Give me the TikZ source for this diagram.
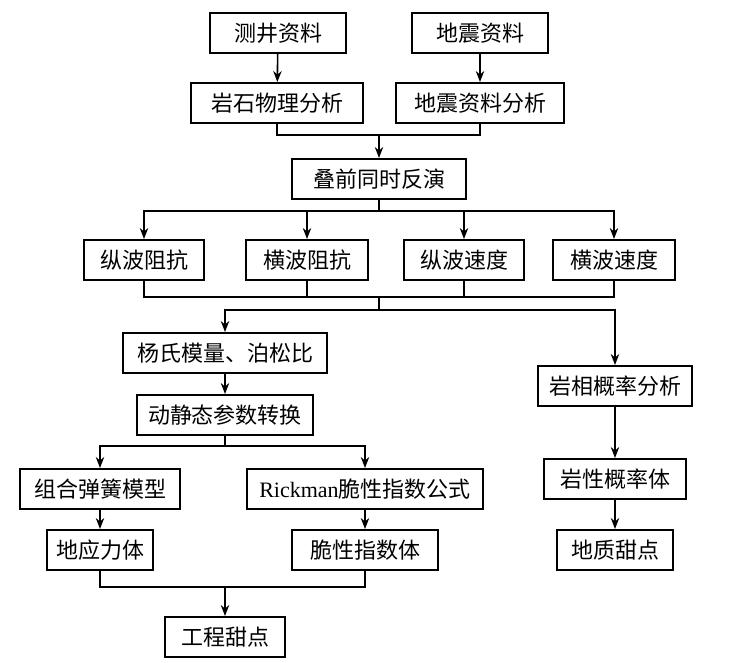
\documentclass[tikz,border=0pt]{standalone}
\usepackage{fontspec}
\setmainfont{Liberation Serif}
\newfontfamily\cjk{Noto Sans CJK SC}
\usetikzlibrary{arrows.meta}

\tikzset{
  kasten/.style={draw, line width=1pt, inner sep=0pt, minimum height=20pt,
    font=\cjk\fontsize{11}{13}\selectfont},
  pfeil/.style={-{Stealth[length=5.5pt,width=4.2pt]}, line width=0.8pt},
  linie/.style={line width=0.8pt}
}

\begin{document}
\begin{tikzpicture}[x=0.5pt,y=-0.5pt]
	\useasboundingbox (0,0) rectangle (729,663);
	% Daten
	\node[kasten, minimum width=68pt] (cejing) at (278,33) {测井资料};
	\node[kasten, minimum width=68pt] (dizhen) at (480,33) {地震资料};
	\node[kasten, minimum width=86pt] (yanshi) at (277,103) {岩石物理分析};
	\node[kasten, minimum width=84pt] (dzfx) at (480,103) {地震资料分析};
	% Inversion
	\node[kasten, minimum width=87pt] (dieqian) at (379,179) {叠前同时反演};
	\node[kasten, minimum width=60pt] (zbzk) at (144,260) {纵波阻抗};
	\node[kasten, minimum width=61pt] (hbzk) at (307,260) {横波阻抗};
	\node[kasten, minimum width=60pt] (zbsd) at (464,260) {纵波速度};
	\node[kasten, minimum width=61pt] (hbsd) at (614,260) {横波速度};
	% links: Ingenieur
	\node[kasten, minimum width=102pt] (yangshi) at (225,353) {杨氏模量、泊松比};
	\node[kasten, minimum width=88pt] (dongjing) at (225,415) {动静态参数转换};
	\node[kasten, minimum width=80pt] (zuhe) at (100,489) {组合弹簧模型};
	\node[kasten, minimum width=118pt] (rickman) at (365,489) {{\rmfamily Rickman}脆性指数公式};
	\node[kasten, minimum width=53pt] (diyingli) at (100,550) {地应力体};
	\node[kasten, minimum width=73pt] (cuixing) at (365,550) {脆性指数体};
	\node[kasten, minimum width=60pt] (gongcheng) at (225,637) {工程甜点};
	% rechts: Geologie
	\node[kasten, minimum width=77pt] (yanxiang) at (615,386) {岩相概率分析};
	\node[kasten, minimum width=71pt] (yanxing) at (615,479) {岩性概率体};
	\node[kasten, minimum width=58pt] (dizhi) at (615,550) {地质甜点};
	% Verbindungen
	\draw[pfeil] (cejing) -- (yanshi);
	\draw[pfeil] (dizhen) -- (dzfx);
	\coordinate (hebeins) at (379,135);
	\draw[linie] (yanshi.south) |- (hebeins) -| (dzfx.south);
	\draw[pfeil] (hebeins) -- (dieqian);
	\coordinate (fenzwei) at (379,211);
	\draw[linie] (dieqian) -- (fenzwei);
	\draw[pfeil] (fenzwei) -| (zbzk);
	\draw[pfeil] (fenzwei) -| (hbzk);
	\draw[pfeil] (fenzwei) -| (zbsd);
	\draw[pfeil] (fenzwei) -| (hbsd);
	\coordinate (hebzwei) at (379,297);
	\draw[linie] (zbzk.south) |- (hebzwei) -| (hbsd.south);
	\draw[linie] (hbzk.south) -- (hbzk.south |- hebzwei);
	\draw[linie] (zbsd.south) -- (zbsd.south |- hebzwei);
	\coordinate (fendrei) at (379,310);
	\draw[linie] (hebzwei) -- (fendrei);
	\draw[pfeil] (fendrei) -| (yangshi);
	\draw[pfeil] (fendrei) -| (yanxiang);
	\draw[pfeil] (yangshi) -- (dongjing);
	\coordinate (fenvier) at (225,446);
	\draw[linie] (dongjing) -- (fenvier);
	\draw[pfeil] (fenvier) -| (zuhe);
	\draw[pfeil] (fenvier) -| (rickman);
	\draw[pfeil] (zuhe) -- (diyingli);
	\draw[pfeil] (rickman) -- (cuixing);
	\coordinate (hebdrei) at (225,587);
	\draw[linie] (diyingli.south) |- (hebdrei) -| (cuixing.south);
	\draw[pfeil] (hebdrei) -- (gongcheng);
	\draw[pfeil] (yanxiang) -- (yanxing);
	\draw[pfeil] (yanxing) -- (dizhi);
\end{tikzpicture}
\end{document}
